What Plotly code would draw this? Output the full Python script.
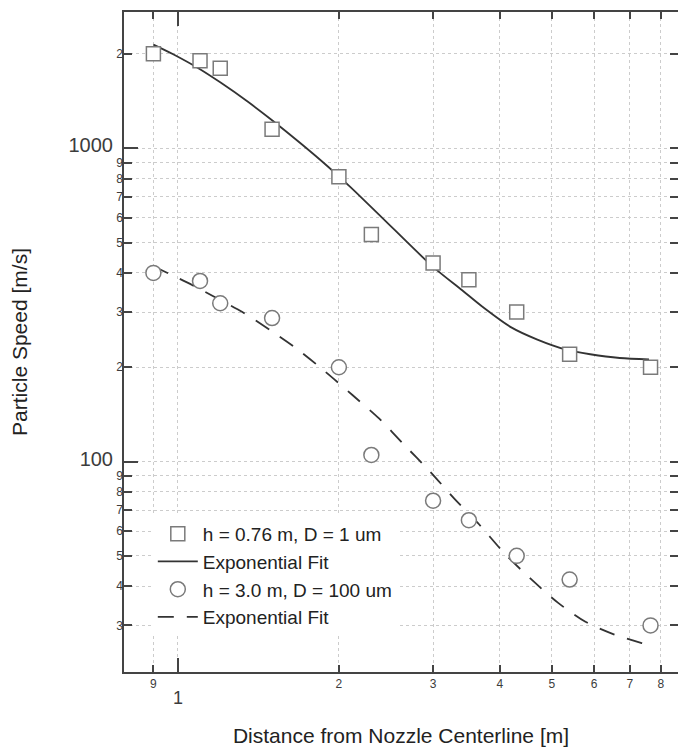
import math
import plotly.graph_objects as go

# ---------------- data ----------------
distance = [0.9, 1.1, 1.2, 1.5, 2.0, 2.3, 3.0, 3.5, 4.3, 5.4, 7.65]
speed_h076 = [2000, 1900, 1800, 1150, 810, 530, 430, 380, 300, 220, 200]
speed_h30 = [400, 377, 320, 287, 200, 105, 75, 65, 50, 42, 30]

fit_h076_x = [0.9, 0.98, 1.1, 1.2, 1.35, 1.5, 1.7, 1.9, 2.1, 2.4, 3.0, 3.4, 3.7, 4.2, 4.7, 5.3, 5.9, 6.7, 7.6]
fit_h076_y = [2140, 1993, 1786, 1622, 1409, 1228, 1033, 879, 753, 604, 418, 352, 313, 268, 245, 228, 220, 214, 212]

fit_h30_x = [0.9, 1.04, 1.16, 1.32, 1.49, 1.68, 1.89, 2.12, 2.38, 2.65, 2.96, 3.29, 3.64, 4.09, 4.57, 5.14, 5.78, 6.53, 7.34, 7.6]
fit_h30_y = [420, 373, 338, 300, 262, 227, 193, 163, 137, 113, 93, 76, 63.6, 50.7, 42.2, 35.4, 30.8, 28.1, 26.4, 26.0]

legend_names = ["h = 0.76 m, D = 1 um", "Exponential Fit", "h = 3.0 m, D = 100 um", "Exponential Fit"]

x_tickvals = [0.9, 1, 2, 3, 4, 5, 6, 7, 8]
x_ticklabels = ["9", "1", "2", "3", "4", "5", "6", "7", "8"]
x_major = [1]
y_tickvals = [30, 40, 50, 60, 70, 80, 90, 100, 200, 300, 400, 500, 600, 700, 800, 900, 1000, 2000]
y_ticklabels = ["3", "4", "5", "6", "7", "8", "9", "100", "2", "3", "4", "5", "6", "7", "8", "9", "1000", "2"]
y_major = [100, 1000]

x_range = [0.793, 8.61]
y_range = [21.3, 2720]

# ---------------- styling ----------------
FONT = "Liberation Sans, Arial, sans-serif"
AXIS_C = "#444444"
LINE_C = "#333333"
MARK_C = "#7a7a7a"
GRID_C = "#cccccc"

xt = [("<br><span style='font-size:18px'>%s</span>" % t) if v in x_major else t
      for v, t in zip(x_tickvals, x_ticklabels)]
yt = [("<span style='font-size:20px'>%s\u2002</span>" % t) if v in y_major else t
      for v, t in zip(y_tickvals, y_ticklabels)]

fig = go.Figure()

fig.add_trace(go.Scatter(
    x=fit_h076_x, y=fit_h076_y, mode="lines", name=legend_names[1], legendrank=2,
    line=dict(color=LINE_C, width=1.8, shape="spline", smoothing=0.8)))
fig.add_trace(go.Scatter(
    x=fit_h30_x, y=fit_h30_y, mode="lines", name=legend_names[3], legendrank=4,
    line=dict(color=LINE_C, width=1.8, dash="16px,13px", shape="spline", smoothing=0.8)))
fig.add_trace(go.Scatter(
    x=distance, y=speed_h076, mode="markers", name=legend_names[0], legendrank=1,
    xaxis="x2", yaxis="y2",
    marker=dict(symbol="square", size=14, color="white", line=dict(color=MARK_C, width=1.5))))
fig.add_trace(go.Scatter(
    x=distance, y=speed_h30, mode="markers", name=legend_names[2], legendrank=3,
    xaxis="x2", yaxis="y2",
    marker=dict(symbol="circle", size=15, color="white", line=dict(color=MARK_C, width=1.5))))

lx = [math.log10(v) for v in x_range]
ly = [math.log10(v) for v in y_range]

common = dict(type="log", ticks="inside", tickcolor=AXIS_C, tickwidth=1.5,
              tickfont=dict(family=FONT, size=12, color="#3c3c3c"),
              showgrid=True, gridcolor=GRID_C, gridwidth=1, griddash="dot",
              mirror="ticks", zeroline=False)

fig.update_layout(
    width=678, height=747,
    margin=dict(l=124, r=0, t=12, b=75, pad=0),
    paper_bgcolor="white", plot_bgcolor="white",
    font=dict(family=FONT, color="#222222"),
    showlegend=True,
    legend=dict(x=0.052, y=0.238, xanchor="left", yanchor="top",
                bgcolor="white", borderwidth=0, itemwidth=40,
                font=dict(family=FONT, size=19, color="#222222"),
                tracegroupgap=0),
    xaxis=dict(range=lx, tickvals=x_tickvals, ticktext=xt, ticklen=7,
               showline=True, linecolor=AXIS_C, linewidth=2,
               title=dict(text="Distance from Nozzle Centerline [m]",
                          font=dict(family=FONT, size=21, color="#222222"), standoff=22),
               **common),
    yaxis=dict(range=ly, tickvals=y_tickvals, ticktext=yt, ticklen=8,
               showline=False,
               title=dict(text="Particle Speed [m/s]",
                          font=dict(family=FONT, size=21, color="#222222"), standoff=35),
               **common),
    xaxis2=dict(type="log", range=lx, overlaying="x", anchor="y2", side="bottom",
                tickvals=x_major, ticks="inside", ticklen=14, tickwidth=2, tickcolor=AXIS_C,
                showticklabels=False, showgrid=False, showline=False, mirror="ticks",
                zeroline=False),
    yaxis2=dict(type="log", range=ly, overlaying="y", anchor="x2", side="left",
                tickvals=y_major, ticks="inside", ticklen=14, tickwidth=2, tickcolor=AXIS_C,
                showticklabels=False, showgrid=False, showline=True, linecolor=AXIS_C,
                linewidth=2, mirror=False, zeroline=False),
)

fig.write_html("out.html")
